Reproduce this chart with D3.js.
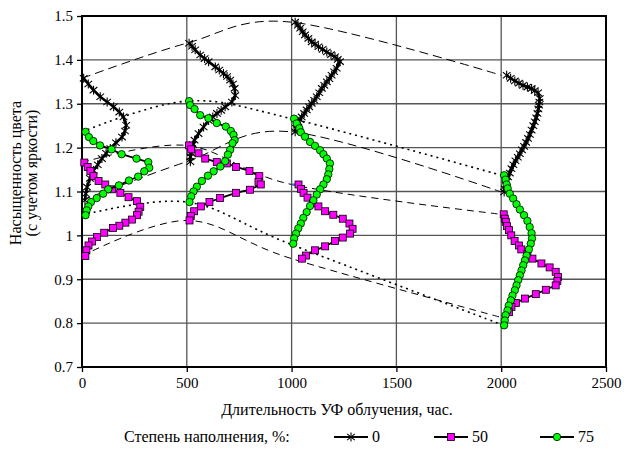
<!DOCTYPE html>
<html><head><meta charset="utf-8">
<script src="https://cdn.jsdelivr.net/npm/d3@7"></script>
<style>body{margin:0;background:#fff}svg{display:block}</style>
</head><body>
<script>
// ---- data ----
const times = [0, 500, 1000, 2000];
const xTicks = [0, 500, 1000, 1500, 2000, 2500];
const yTicks = [0.7, 0.8, 0.9, 1.0, 1.1, 1.2, 1.3, 1.4, 1.5];
const seriesNames = ["0", "50", "75"];

// series "0" (asterisk) profiles at each exposure time
const s0_t0 = [[8,1.358],[30,1.345],[55,1.331],[87,1.316],[120,1.304],[151,1.293],[178,1.281],[198,1.27],[211,1.251],[205,1.238],[191,1.224],[162,1.211],[135,1.198],[115,1.187],[95,1.175],[75,1.161],[55,1.148],[38,1.13],[24,1.11],[18,1.095],[14,1.08]];
const s0_t500 = [[511,1.438],[525,1.431],[540,1.423],[564,1.411],[585,1.403],[604,1.396],[636,1.384],[655,1.377],[675,1.369],[692,1.362],[707,1.354],[720,1.345],[728,1.335],[731,1.319],[715,1.304],[683,1.293],[664,1.285],[644,1.278],[624,1.27],[604,1.262],[580,1.247],[556,1.232],[537,1.217],[530,1.207],[525,1.198],[520,1.188],[517,1.179],[517,1.168]];
const s0_t1000 = [[1017,1.486],[1030,1.479],[1041,1.472],[1053,1.464],[1064,1.457],[1080,1.449],[1096,1.441],[1112,1.436],[1128,1.43],[1148,1.424],[1168,1.418],[1188,1.412],[1207,1.407],[1220,1.401],[1231,1.396],[1215,1.381],[1203,1.373],[1191,1.365],[1180,1.357],[1168,1.35],[1156,1.342],[1144,1.335],[1132,1.325],[1120,1.316],[1108,1.308],[1096,1.301],[1084,1.293],[1072,1.286],[1060,1.278],[1048,1.27],[1040,1.264],[1032,1.259],[1025,1.251],[1021,1.244],[1017,1.236]];
const s0_t2000 = [[2026,1.365],[2045,1.358],[2065,1.352],[2085,1.347],[2104,1.342],[2125,1.338],[2145,1.335],[2160,1.33],[2176,1.325],[2184,1.312],[2182,1.304],[2180,1.297],[2177,1.288],[2173,1.278],[2167,1.268],[2160,1.259],[2153,1.25],[2145,1.24],[2137,1.23],[2128,1.221],[2119,1.212],[2109,1.203],[2099,1.195],[2089,1.186],[2079,1.178],[2068,1.17],[2058,1.161],[2049,1.152],[2041,1.142],[2033,1.133],[2027,1.123],[2021,1.114],[2017,1.106],[2014,1.099]];

// series "50" (magenta squares)
const s50_t0 = [[11,1.166],[27,1.156],[40,1.147],[55,1.135],[79,1.124],[111,1.116],[143,1.105],[183,1.097],[222,1.087],[262,1.078],[278,1.065],[270,1.054],[262,1.046],[238,1.036],[207,1.029],[178,1.022],[148,1.017],[106,1.006],[71,0.996],[48,0.986],[31,0.977],[21,0.966],[16,0.953]];
const s50_t500 = [[511,1.205],[521,1.196],[556,1.187],[588,1.175],[643,1.167],[691,1.164],[735,1.156],[799,1.147],[846,1.135],[842,1.122],[853,1.116],[802,1.104],[735,1.097],[659,1.085],[608,1.076],[567,1.066],[535,1.055],[519,1.044],[513,1.034]];
const s50_t1000 = [[1033,1.116],[1045,1.106],[1057,1.097],[1076,1.086],[1102,1.073],[1128,1.066],[1160,1.055],[1199,1.047],[1244,1.038],[1276,1.027],[1291,1.015],[1279,1.004],[1244,0.995],[1207,0.987],[1160,0.975],[1112,0.966],[1069,0.954],[1049,0.947]];
const s50_t2000 = [[2012,1.048],[2017,1.038],[2022,1.031],[2028,1.021],[2037,1.012],[2048,1.0],[2064,0.987],[2085,0.977],[2096,0.968],[2125,0.958],[2149,0.947],[2192,0.936],[2231,0.927],[2260,0.917],[2271,0.905],[2268,0.896],[2260,0.886],[2213,0.876],[2165,0.866],[2113,0.856],[2070,0.846],[2049,0.837],[2037,0.825]];

// series "75" (green circles)
const s75_t0 = [[17,1.236],[33,1.224],[54,1.215],[86,1.205],[141,1.196],[189,1.185],[260,1.175],[316,1.167],[321,1.154],[297,1.146],[268,1.134],[224,1.125],[176,1.114],[125,1.105],[101,1.095],[70,1.085],[43,1.076],[30,1.066],[22,1.057],[17,1.046]];
const s75_t500 = [[511,1.306],[516,1.297],[537,1.288],[564,1.274],[603,1.267],[643,1.256],[686,1.248],[710,1.238],[723,1.229],[728,1.217],[718,1.21],[707,1.195],[696,1.184],[683,1.169],[660,1.157],[628,1.146],[601,1.136],[572,1.124],[548,1.111],[532,1.1],[521,1.089],[513,1.076]];
const s75_t1000 = [[1012,1.266],[1024,1.255],[1037,1.244],[1044,1.235],[1064,1.225],[1088,1.213],[1112,1.204],[1136,1.194],[1152,1.185],[1168,1.175],[1183,1.164],[1180,1.151],[1175,1.139],[1168,1.128],[1152,1.116],[1136,1.105],[1120,1.093],[1104,1.08],[1088,1.067],[1072,1.053],[1056,1.04],[1044,1.027],[1032,1.016],[1021,1.004],[1012,0.993],[1008,0.981]];
const s75_t2000 = [[2014,1.137],[2021,1.127],[2026,1.116],[2031,1.107],[2041,1.095],[2057,1.084],[2073,1.071],[2089,1.059],[2109,1.046],[2125,1.033],[2136,1.019],[2145,1.005],[2147,0.993],[2141,0.981],[2132,0.968],[2121,0.954],[2113,0.943],[2105,0.932],[2097,0.92],[2089,0.909],[2081,0.898],[2073,0.886],[2065,0.875],[2054,0.863],[2046,0.852],[2036,0.84],[2030,0.829],[2021,0.818],[2017,0.806],[2014,0.795]];

// envelope lines joining the start / end of each profile over time
const env0Top = [1.358, 1.438, 1.486, 1.365];
const env0Bot = [1.08, 1.168, 1.236, 1.099];
const env50Top = [1.166, 1.205, 1.116, 1.048];
const env50Bot = [0.953, 1.034, 0.947, 0.813];
const env75Top = [1.236, 1.306, 1.266, 1.137];
const env75Bot = [1.046, 1.076, 0.979, 0.797];

// ---- chart ----
const FONT = '"Liberation Serif", "Times New Roman", Times, "DejaVu Serif", serif';
const W = 624, H = 455;
const L = 82, R = 606, T = 16, B = 367;
const svg = d3.select("body").append("svg").attr("width", W).attr("height", H);
const x = d3.scaleLinear().domain([0, 2500]).range([L, R]);
const y = d3.scaleLinear().domain([0.7, 1.5]).range([B, T]);

// grid
const g = svg.append("g");
g.selectAll(".hg").data(yTicks.slice(1, -1)).join("line")
  .attr("x1", L).attr("x2", R).attr("y1", d => y(d)).attr("y2", d => y(d))
  .attr("stroke", "#555").attr("stroke-width", 1.3);
g.selectAll(".vg").data(xTicks.slice(1, -1)).join("line")
  .attr("y1", T).attr("y2", B).attr("x1", d => x(d)).attr("x2", d => x(d))
  .attr("stroke", "#555").attr("stroke-width", 1.3);

// axes
const fmtY = d => (Math.abs(d - 1) < 1e-9 ? "1" : d3.format(".1f")(d));
const ya = svg.append("g").attr("transform", `translate(${L},0)`)
  .call(d3.axisLeft(y).tickValues(yTicks).tickFormat(fmtY).tickSize(5).tickPadding(4));
const xa = svg.append("g").attr("transform", `translate(0,${B})`)
  .call(d3.axisBottom(x).tickValues(xTicks).tickFormat(d3.format("d")).tickSize(5).tickPadding(5));
[ya, xa].forEach(a => {
  a.attr("font-family", null).attr("font-size", null);
  a.select(".domain").remove();
  a.selectAll("line").attr("stroke", "#000").attr("stroke-width", 1.3);
  a.selectAll("text").style("font-family", FONT).style("font-size", "15px").attr("fill", "#000");
});
svg.append("rect").attr("x", L).attr("y", T).attr("width", R - L).attr("height", B - T)
  .attr("fill", "none").attr("stroke", "#000").attr("stroke-width", 2);

// envelope lines
const envLine = d3.line().x((d, i) => x(times[i])).y(d => y(d)).curve(d3.curveCardinal.tension(0));
const envs = [
  [env0Top, "9,5", 1], [env0Bot, "9,5", 1],
  [env50Top, "7,5", 1], [env50Bot, "7,5", 1],
  [env75Top, "2,4", 1.6], [env75Bot, "2,4", 1.6]
];
envs.forEach(([data, dash, w]) => {
  svg.append("path").attr("d", envLine(data)).attr("fill", "none")
    .attr("stroke", "#000").attr("stroke-width", w).attr("stroke-dasharray", dash);
});

// small blue ticks at start of magenta profiles
[s50_t0, s50_t500, s50_t1000, s50_t2000].forEach((p, i) => {
  svg.append("line").attr("x1", x(times[i])).attr("x2", x(p[0][0])).attr("y1", y(p[0][1])).attr("y2", y(p[0][1]))
    .attr("stroke", "#3a6fd8").attr("stroke-width", 2);
});

const line = d3.line().x(d => x(d[0])).y(d => y(d[1]));

function drawStar(sel, cx, cy, r) {
  const gg = sel.append("g").attr("transform", `translate(${cx},${cy})`).attr("stroke", "#000").attr("stroke-width", 1.1);
  gg.append("line").attr("x1", 0).attr("x2", 0).attr("y1", -r).attr("y2", r);
  gg.append("line").attr("x1", -r * 0.85).attr("x2", r * 0.85).attr("y1", -r * 0.7).attr("y2", r * 0.7);
  gg.append("line").attr("x1", -r * 0.85).attr("x2", r * 0.85).attr("y1", r * 0.7).attr("y2", -r * 0.7);
}
function drawSquare(sel, cx, cy) {
  sel.append("rect").attr("x", cx - 3.5).attr("y", cy - 3.5).attr("width", 7).attr("height", 7)
    .attr("fill", "#ff00ff").attr("stroke", "#000").attr("stroke-width", 0.8);
}
function drawCircle(sel, cx, cy) {
  sel.append("circle").attr("cx", cx).attr("cy", cy).attr("r", 3.7)
    .attr("fill", "#00ff00").attr("stroke", "#000").attr("stroke-width", 0.8);
}

const groups = [
  [[s0_t0, s0_t500, s0_t1000, s0_t2000], 2.6, "star"],
  [[s50_t0, s50_t500, s50_t1000, s50_t2000], 1.8, "square"],
  [[s75_t0, s75_t500, s75_t1000, s75_t2000], 1.8, "circle"]
];
groups.forEach(([profiles, lw, mk]) => {
  const sg = svg.append("g");
  profiles.forEach(p => {
    sg.append("path").attr("d", line(p)).attr("fill", "none").attr("stroke", "#000").attr("stroke-width", lw);
    p.forEach(d => {
      if (mk === "star") drawStar(sg, x(d[0]), y(d[1]), 4.5);
      else if (mk === "square") drawSquare(sg, x(d[0]), y(d[1]));
      else drawCircle(sg, x(d[0]), y(d[1]));
    });
  });
});

function txt(sel, xx, yy, s, size, anchor) {
  return sel.append("text").attr("x", xx).attr("y", yy).attr("text-anchor", anchor || "start")
    .style("font-family", FONT).style("font-size", size + "px").attr("fill", "#000").text(s);
}

// axis titles
txt(svg, 337, 415, "Длительность УФ облучения, час.", 16, "middle");
const yt = svg.append("g").attr("transform", "translate(0,173) rotate(-90)");
txt(yt, 0, 21, "Насыщенность цвета", 16, "middle");
txt(yt, 0, 37, "(с учетом яркости)", 16, "middle");

// legend
const ly = 437;
txt(svg, 124, ly + 5, "Степень наполнения, %:", 16);
const legItems = [[334, "star"], [434, "square"], [540, "circle"]];
legItems.forEach(([lx, mk], i) => {
  svg.append("line").attr("x1", lx).attr("x2", lx + 34).attr("y1", ly).attr("y2", ly).attr("stroke", "#000").attr("stroke-width", 2);
  const lg = svg.append("g");
  if (mk === "star") drawStar(lg, lx + 17, ly, 4.5);
  else if (mk === "square") drawSquare(lg, lx + 17, ly);
  else drawCircle(lg, lx + 17, ly);
  txt(svg, lx + 38, ly + 5, seriesNames[i], 16);
});
</script>
</body></html>
